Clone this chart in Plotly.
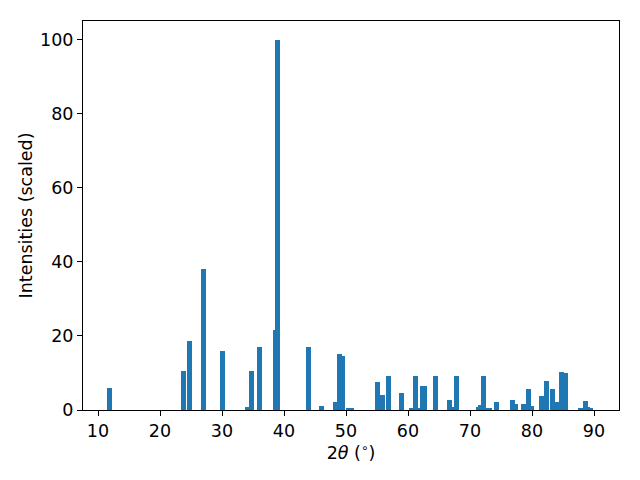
import plotly.graph_objects as go

two_theta = [11.85, 23.8, 24.75, 27.0, 30.1, 34.1, 34.75, 36.05, 38.55, 38.9,
             43.95, 46.05, 48.3, 48.95, 49.45, 50.45, 50.9, 55.05, 55.55, 55.95,
             56.85, 58.95, 60.6, 61.2, 61.9, 62.3, 62.65, 64.4, 66.7, 67.25,
             67.8, 71.4, 71.65, 72.2, 72.8, 73.1, 74.3, 76.85, 77.3, 78.6,
             79.4, 79.9, 81.5, 82.3, 83.3, 84.1, 84.75, 85.4, 87.8, 88.6,
             89.0, 89.5]
intensity = [6.0, 10.6, 18.7, 38.2, 16.0, 0.8, 10.6, 17.1, 21.7, 100.0,
             17.1, 1.1, 2.2, 15.2, 14.6, 0.3, 0.3, 7.6, 3.5, 4.1,
             9.2, 4.6, 0.3, 9.2, 0.3, 6.5, 6.5, 9.2, 2.7, 0.8,
             9.2, 0.8, 1.4, 9.2, 0.3, 0.4, 2.2, 2.7, 1.6, 1.6,
             5.7, 1.1, 3.8, 7.9, 5.7, 2.2, 10.3, 10.0, 0.6, 2.4,
             0.8, 0.3]
x_ticks = [10, 20, 30, 40, 50, 60, 70, 80, 90]
y_ticks = [0, 20, 40, 60, 80, 100]

fig = go.Figure()
fig.add_trace(go.Bar(x=two_theta, y=intensity, width=0.8,
                     marker=dict(color="#1f77b4", line=dict(width=0))))

font = dict(family="DejaVu Sans", size=17.5, color="black")
axis_common = dict(showgrid=False, zeroline=False, showline=True, linecolor="black",
                   linewidth=1, mirror=True, ticks="outside", ticklen=5, tickwidth=1,
                   tickcolor="black", tickfont=font, title_font=font, automargin=False)
fig.update_layout(
    width=640, height=480,
    margin=dict(l=75, r=29, t=13, b=78),
    plot_bgcolor="white", paper_bgcolor="white",
    barmode="overlay", bargap=0, showlegend=False,
    font=font,
)
fig.update_xaxes(range=[7.58, 94.03], tickvals=x_ticks,
                 title_text="2<i>θ</i> (<sup>∘</sup>)",
                 title_standoff=4, **axis_common)
fig.update_yaxes(range=[0, 105.1], tickvals=y_ticks, title_text="Intensities (scaled)",
                 title_standoff=2, **axis_common)
fig.write_html("out.html")
